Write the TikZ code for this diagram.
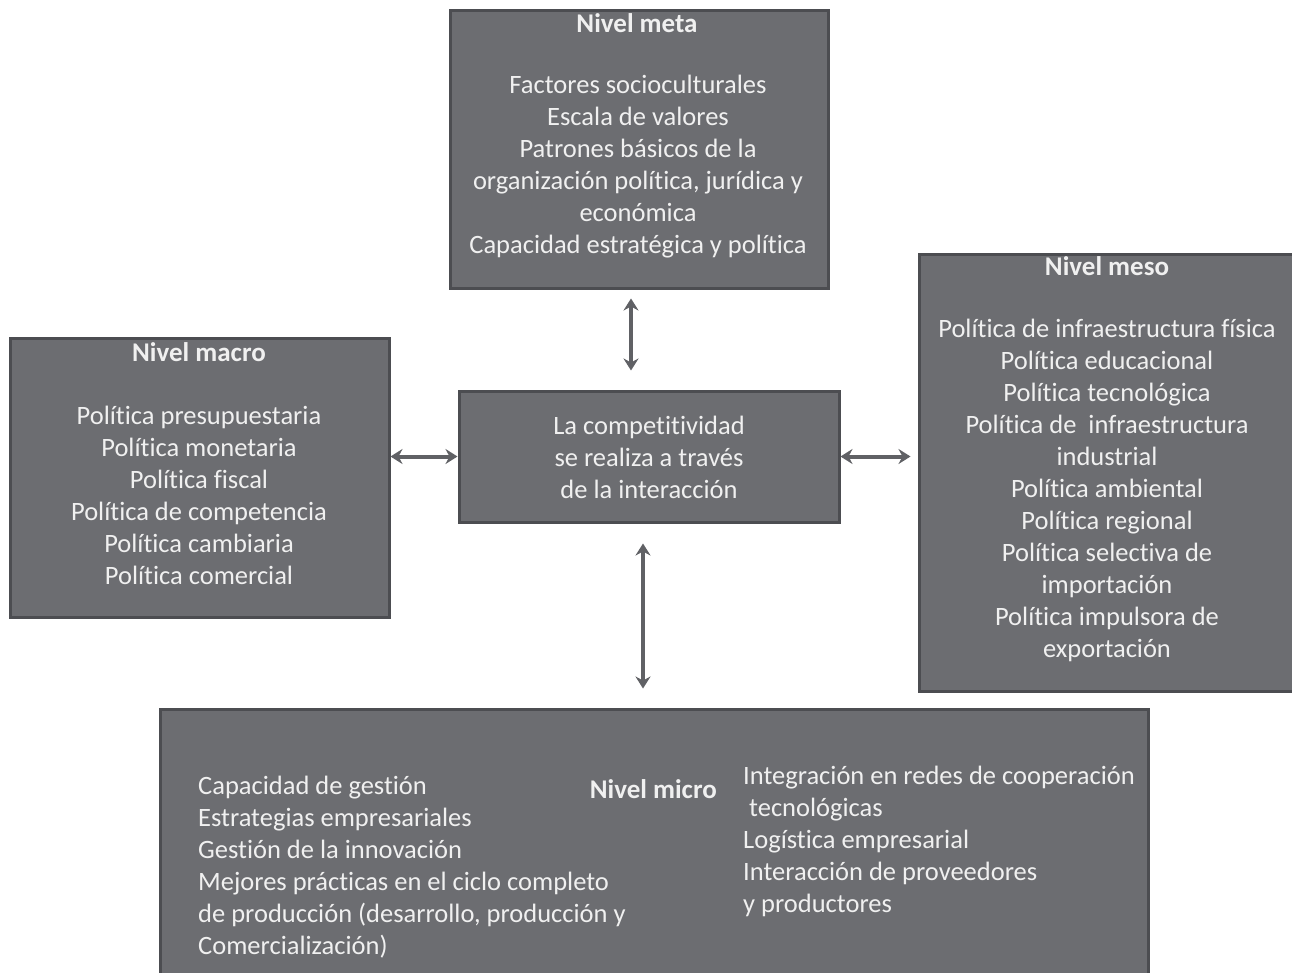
\documentclass[tikz,border=0pt]{standalone}
\usepackage{fontspec}
\setmainfont[Ligatures=NoCommon]{Carlito}
\usetikzlibrary{arrows.meta}

\definecolor{boxgray}{RGB}{108,109,113}
\definecolor{boxedge}{RGB}{76,77,81}
\definecolor{boxtext}{RGB}{240,240,240}
\definecolor{arrowgray}{RGB}{96,97,101}

\tikzset{
  level/.style={draw=boxedge,line width=3pt,fill=boxgray,inner sep=0pt},
  title/.style={text=boxtext,inner sep=0pt,font=\fontsize{27}{30}\selectfont\bfseries},
  items/.style={text=boxtext,inner sep=0pt,font=\fontsize{26.5}{32}\selectfont},
  link/.style={draw=arrowgray,line width=4pt,
    {Stealth[length=12pt,width=15pt,inset=4pt]}-{Stealth[length=12pt,width=15pt,inset=4pt]}}
}

\begin{document}
\begin{tikzpicture}[x=1pt,y=-1pt]

      \useasboundingbox[fill=white] (0,0) rectangle (1292,972);
      \clip (0,0) rectangle (1292,972);

      % the five levels
      \begin{scope}[every node/.style={level}]
        \node[minimum width=378,minimum height=278] (meta)  at (639,149)    {};
        \node[minimum width=379,minimum height=279] (macro) at (199.5,477.5) {};
        \node[minimum width=380,minimum height=131] (mid)   at (649,456.5)  {};
        \node[minimum width=376,minimum height=437] (meso)  at (1107,472.5) {};
        \node[minimum width=988,minimum height=290] (micro) at (654,854)    {};
      \end{scope}

      % titles
      \node[title] (metat)  at (637,23)  {Nivel meta};
      \node[title] (macrot) at (199,352) {Nivel macro};
      \node[title] (mesot)  at (1107,266) {Nivel meso};
      \node[title,anchor=east] (microt) at (717,789) {Nivel micro};

      % texts
      \begin{scope}[every node/.style={items}]
        \node[align=center] (metax) at (638,167) {Factores socioculturales\\
          Escala de valores\\ Patrones básicos de la\\
          organización política, jurídica y\\ económica\\
          Capacidad estratégica y política};
        \node[align=center] (macrox) at (199,495.5) {Política presupuestaria\\
          Política monetaria\\ Política fiscal\\ Política de competencia\\
          Política cambiaria\\ Política comercial};
        \node[align=center] (midx) at (649,457) {La competitividad\\
          se realiza a través\\ de la interacción};
        \node[align=center] (mesox) at (1107,490) {Política de infraestructura física\\
          Política educacional\\ Política tecnológica\\
          Política de\ \ infraestructura\\ industrial\\ Política ambiental\\
          Política regional\\ Política selectiva de\\ importación\\
          Política impulsora de\\ exportación};
        \node[align=left,anchor=west] (microl) at (198,867) {Capacidad de gestión\\
          Estrategias empresariales\\ Gestión de la innovación\\
          Mejores prácticas en el ciclo completo\\
          de producción (desarrollo, producción y\\ Comercialización)};
        \node[align=left,anchor=west] (micror) at (743,841) {Integración en redes de cooperación\\
          \ tecnológicas\\ Logística empresarial\\
          Interacción de proveedores\\ y productores};
      \end{scope}

      % arrows between the levels
      \begin{scope}[every edge/.style={link}]
        \path ([xshift=-8]meta.south) edge[shorten <=9,shorten >=19] ([xshift=-18]mid.north);
        \path (macro.east |- mid.west) edge (mid.west);
        \path (mid.east) edge[shorten >=7] (meso.west |- mid.east);
        \path ([xshift=-6]mid.south) edge[shorten <=20,shorten >=19] ([xshift=-11]micro.north);
      \end{scope}

    \end{tikzpicture}
\end{document}
